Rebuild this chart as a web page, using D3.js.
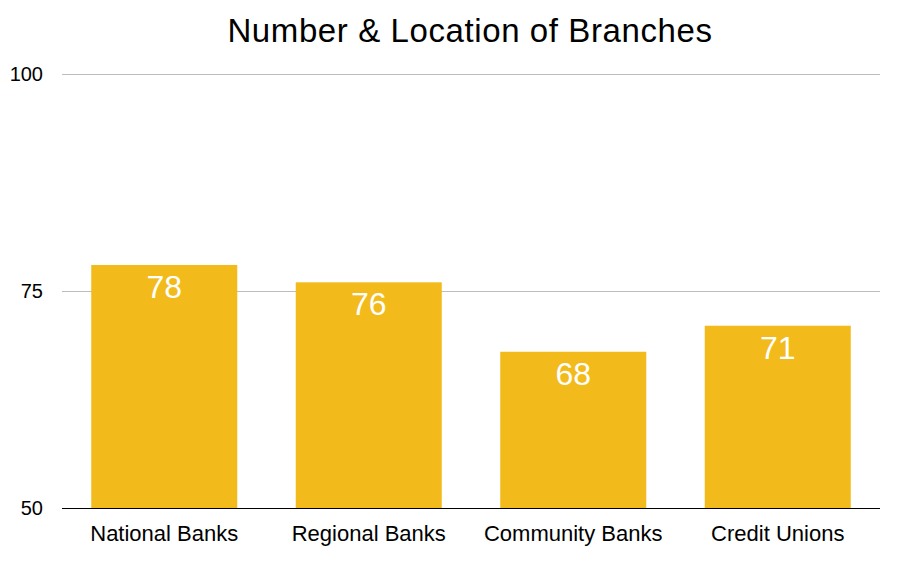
<!DOCTYPE html>
<html>
<head>
<meta charset="utf-8">
<script src="https://cdn.jsdelivr.net/npm/d3@7"></script>
<style>
  body { margin: 0; background: #fff; }
  svg { display: block; font-family: "Liberation Sans", Arial, Helvetica, sans-serif; }
</style>
</head>
<body>
<svg width="908" height="577"></svg>
<script>
const categories = ["National Banks", "Regional Banks", "Community Banks", "Credit Unions"];
const values = [78, 76, 68, 71];
const yTicks = [50, 75, 100];

const svg = d3.select("svg");
const width = 908, height = 577;
const margin = { top: 74, right: 28, bottom: 69, left: 62 };

const x = d3.scaleBand()
    .domain(categories)
    .range([margin.left, width - margin.right])
    .paddingInner(0.286)
    .paddingOuter(0.143);

const y = d3.scaleLinear()
    .domain([50, 100])
    .range([height - margin.bottom, margin.top]);

// Title
svg.append("text")
    .attr("x", 470)
    .attr("y", 42)
    .attr("text-anchor", "middle")
    .attr("font-size", "33px")
    .attr("letter-spacing", "0.6px")
    .attr("fill", "#000")
    .text("Number & Location of Branches");

// Gridlines
svg.append("g")
    .selectAll("line")
    .data(yTicks.filter(d => d !== 50))
    .join("line")
    .attr("x1", margin.left)
    .attr("x2", width - margin.right)
    .attr("y1", d => y(d) + 0.5)
    .attr("y2", d => y(d) + 0.5)
    .attr("stroke", "#bdbdbd")
    .attr("stroke-width", 1);

// Y tick labels
svg.append("g")
    .selectAll("text")
    .data(yTicks)
    .join("text")
    .attr("x", 43)
    .attr("y", d => y(d))
    .attr("dy", "0.35em")
    .attr("text-anchor", "end")
    .attr("font-size", "20px")
    .attr("fill", "#000")
    .text(d => d);

// Bars
svg.append("g")
    .selectAll("rect")
    .data(values)
    .join("rect")
    .attr("x", (d, i) => x(categories[i]))
    .attr("y", d => y(d))
    .attr("width", x.bandwidth())
    .attr("height", d => y(50) - y(d))
    .attr("fill", "#F2BB1B");

// Value labels
svg.append("g")
    .selectAll("text")
    .data(values)
    .join("text")
    .attr("x", (d, i) => x(categories[i]) + x.bandwidth() / 2)
    .attr("y", d => y(d) + 33)
    .attr("text-anchor", "middle")
    .attr("font-size", "32px")
    .attr("fill", "#fff")
    .text(d => d);

// Baseline
svg.append("line")
    .attr("x1", margin.left)
    .attr("x2", width - margin.right)
    .attr("y1", y(50) + 0.5)
    .attr("y2", y(50) + 0.5)
    .attr("stroke", "#000")
    .attr("stroke-width", 1);

// Category labels
svg.append("g")
    .selectAll("text")
    .data(categories)
    .join("text")
    .attr("x", d => x(d) + x.bandwidth() / 2)
    .attr("y", 541)
    .attr("text-anchor", "middle")
    .attr("font-size", "22px")
    .attr("fill", "#000")
    .text(d => d);
</script>
</body>
</html>
